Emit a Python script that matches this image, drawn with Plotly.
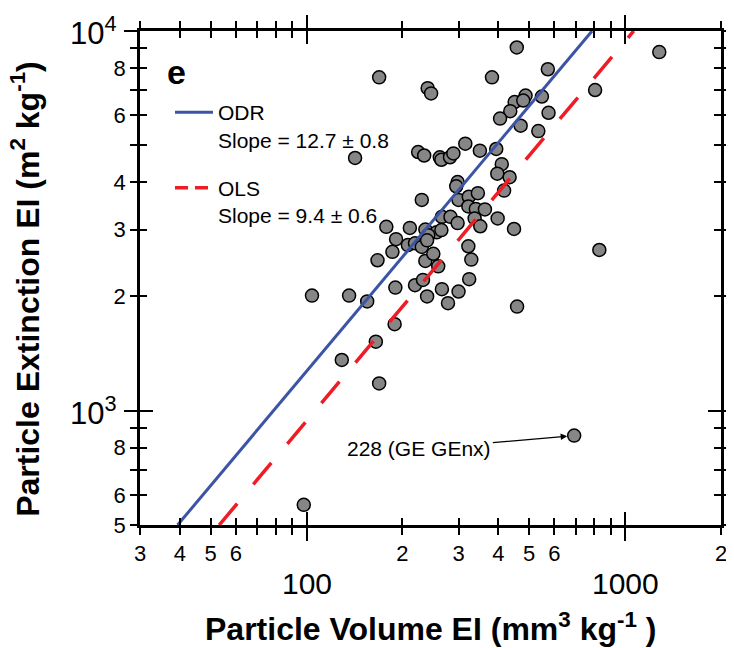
import math
import plotly.graph_objects as go

# ---------------- data ----------------
particle_volume_ei = [457, 1280, 169, 240, 246, 382, 572, 805,
                      487, 450, 479, 548, 436, 405, 575, 470, 534,
                      142, 224, 234, 262, 265, 282, 289, 315, 350, 394, 410, 397, 434, 417,
                      298, 295, 230, 300, 323, 345, 322, 340, 363, 266, 283, 298, 337, 351,
                      398, 448, 178, 211, 236, 256, 265, 241, 191, 208, 219, 230, 239, 186,
                      167, 236, 250, 259, 322, 329, 830,
                      104, 136, 155, 190, 219, 232, 239, 266, 278, 300, 324, 458,
                      189, 165, 129, 169, 692, 98]
particle_extinction_ei = [9050, 8800, 7550, 7070, 6850, 7550, 7930, 6990,
                          6760, 6500, 6560, 6720, 6150, 5880, 6090, 5630, 5450,
                          4630, 4800, 4700, 4650, 4580, 4650, 4760, 5050, 4840, 4890, 4460, 4210, 4120, 3800,
                          4000, 3900, 3590, 3590, 3660, 3740, 3450, 3400, 3390, 3240, 3240, 3120, 3210, 3060,
                          3210, 3010, 3050, 3030, 3000, 2950, 2990, 2900, 2830, 2730, 2760, 2700, 2810, 2620,
                          2490, 2480, 2590, 2400, 2710, 2500, 2650,
                          2010, 2010, 1940, 2110, 2140, 2210, 2000, 2090, 1920, 2060, 2220, 1880,
                          1690, 1520, 1360, 1180, 860, 565]

odr_slope, odr_err = 12.7, 0.8
ols_slope, ols_err = 9.4, 0.6

x_range = [30, 2000]
y_range = [500, 10000]

x_labelled = [30, 40, 50, 60, 200, 300, 400, 500, 600, 2000]
x_labels = ["3", "4", "5", "6", "2", "3", "4", "5", "6", "2"]
x_unlabelled = [70, 80, 90, 700, 800, 900]
x_decades = [100, 1000]
x_decade_text = ["100", "1000"]

y_labelled = [500, 600, 800, 2000, 3000, 4000, 6000, 8000]
y_labels = ["5", "6", "8", "2", "3", "4", "6", "8"]
y_unlabelled = [700, 900, 5000, 7000, 9000]
y_decades = [1000, 10000]
y_decade_text = ["10<sup>3</sup>", "10<sup>4</sup>"]

labelled_index = 82          # the "228 (GE GEnx)" point
labelled_text = "228 (GE GEnx)"
label_text_pos = (226, 793)  # where the note text sits (data units)

FONT = "Liberation Sans, Arial, sans-serif"

fig = go.Figure()

fig.add_trace(go.Scatter(
    x=particle_volume_ei, y=particle_extinction_ei, mode="markers",
    marker=dict(size=13, color="#868686", line=dict(color="black", width=1.5)),
    showlegend=False, cliponaxis=False))

# fit lines: E = slope * V across the y range
fig.add_trace(go.Scatter(
    x=[y_range[0] / odr_slope, y_range[1] / odr_slope], y=y_range, mode="lines",
    line=dict(color="#3b54a5", width=3), legendgroup="odr",
    name=f"ODR<br>Slope = {odr_slope} ± {odr_err}"))
fig.add_trace(go.Scatter(
    x=[None], y=[None], mode="lines", legendgroup="ols",
    line=dict(color="#ee1c25", width=3.5, dash="13px,7px"),
    name=f"OLS<br>Slope = {ols_slope} ± {ols_err}"))
fig.add_trace(go.Scatter(
    x=[y_range[0] / ols_slope, y_range[1] / ols_slope], y=y_range, mode="lines",
    line=dict(color="#ee1c25", width=3.5, dash="28px,25px"), legendgroup="ols",
    showlegend=False))

# empty traces so the overlay tick axes are drawn
for k in (2, 3, 4):
    fig.add_trace(go.Scatter(x=[], y=[], xaxis=f"x{k}", yaxis=f"y{k}", showlegend=False))

lx = [math.log10(v) for v in x_range]
ly = [math.log10(v) for v in y_range]

common = dict(type="log", showgrid=False, zeroline=False, tickmode="array",
              tickcolor="black", tickwidth=2, showline=True, linecolor="black",
              linewidth=2.5, mirror="ticks", automargin=False)
minor_out = dict(ticks="outside", ticklen=7, tickwidth=2, tickcolor="black", tickmode="array")

fig.update_layout(
    width=726, height=640,
    margin=dict(l=132, r=13, t=23, b=123),
    paper_bgcolor="white", plot_bgcolor="white",
    font=dict(family=FONT, color="black"),
    xaxis=dict(**common, range=lx, tickvals=x_labelled, ticktext=x_labels,
               ticks="outside", ticklen=7, tickfont=dict(size=22), anchor="y",
               minor=dict(**minor_out, tickvals=x_unlabelled)),
    xaxis2=dict(**common, range=lx, tickvals=x_labelled + x_unlabelled, ticks="inside", ticklen=7,
                showticklabels=False, overlaying="x", anchor="y2"),
    xaxis3=dict(**common, range=lx, tickvals=x_decades, ticks="outside", ticklen=13,
                showticklabels=False, overlaying="x", anchor="y3"),
    xaxis4=dict(**common, range=lx, tickvals=x_decades, ticks="inside", ticklen=13,
                showticklabels=False, overlaying="x", anchor="y4"),
    yaxis=dict(**common, range=ly, tickvals=y_labelled, ticktext=y_labels,
               ticks="outside", ticklen=7, tickfont=dict(size=22), anchor="x",
               minor=dict(**minor_out, tickvals=y_unlabelled)),
    yaxis2=dict(**common, range=ly, tickvals=y_labelled + y_unlabelled, ticks="inside", ticklen=7,
                showticklabels=False, overlaying="y", anchor="x2"),
    yaxis3=dict(**common, range=ly, tickvals=y_decades, ticks="outside", ticklen=13,
                showticklabels=False, overlaying="y", anchor="x3"),
    yaxis4=dict(**common, range=ly, tickvals=y_decades, ticks="inside", ticklen=13,
                showticklabels=False, overlaying="y", anchor="x4"),
    legend=dict(x=0.0516, y=0.8765, xanchor="left", yanchor="top", valign="top",
                bgcolor="rgba(0,0,0,0)", font=dict(size=21, family=FONT),
                itemwidth=38, traceorder="grouped", tracegroupgap=18),
)

annotations = []
for v, t in zip(x_decades, x_decade_text):
    annotations.append(dict(x=math.log10(v), y=-0.119, xref="x", yref="paper", text=t,
                            showarrow=False, font=dict(size=30), xanchor="center", yanchor="middle"))
for v, t in zip(y_decades, y_decade_text):
    annotations.append(dict(x=-0.036, y=math.log10(v), xref="paper", yref="y", text=t,
                            showarrow=False, font=dict(size=31), xanchor="right", yanchor="middle"))
annotations.append(dict(x=0.5, y=-0.207, xref="paper", yref="paper",
                        text="<b>Particle Volume EI (mm<sup>3</sup> kg<sup>-1</sup> )</b>",
                        showarrow=False, font=dict(size=32), xanchor="center", yanchor="middle"))
annotations.append(dict(x=-0.198, y=0.478, xref="paper", yref="paper", textangle=-90,
                        text="<b>Particle Extinction EI (m<sup>2</sup> kg<sup>-1</sup>)</b>",
                        showarrow=False, font=dict(size=32), xanchor="center", yanchor="middle"))
annotations.append(dict(x=0.062, y=0.918, xref="paper", yref="paper", text="<b>e</b>",
                        showarrow=False, font=dict(size=34), xanchor="center", yanchor="middle"))
annotations.append(dict(x=math.log10(particle_volume_ei[labelled_index]),
                        y=math.log10(particle_extinction_ei[labelled_index]),
                        ax=math.log10(label_text_pos[0]), ay=math.log10(label_text_pos[1]),
                        axref="x", ayref="y", xref="x", yref="y",
                        text=labelled_text, showarrow=True, arrowhead=2, arrowsize=1,
                        arrowwidth=1.3, arrowcolor="black", standoff=7,
                        font=dict(size=21)))
fig.update_layout(annotations=annotations)

fig.write_html("out.html")
